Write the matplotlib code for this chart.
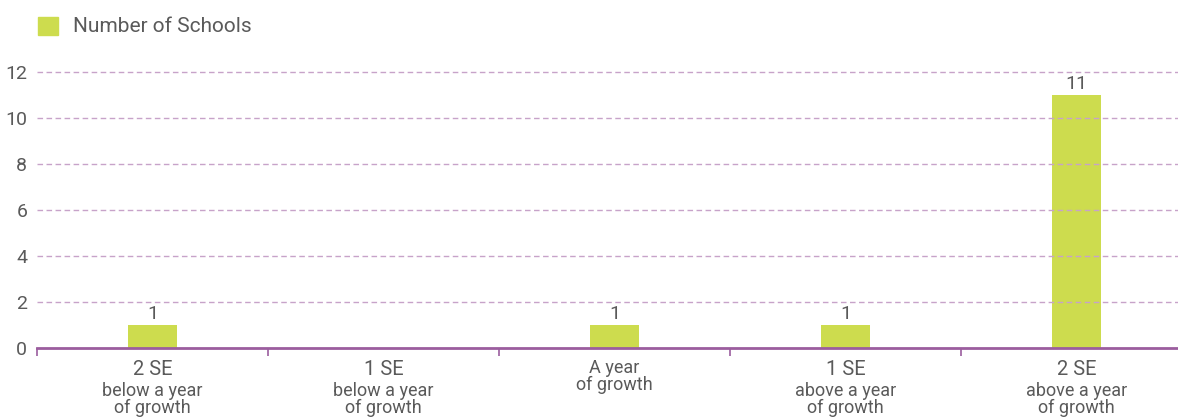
import matplotlib.pyplot as plt
import matplotlib.transforms as mtransforms
from matplotlib.patches import Rectangle

# data
categories = ['2 SE', '1 SE', 'A year', '1 SE', '2 SE']
subtitles = ['below a year\nof growth', 'below a year\nof growth', 'of growth',
             'above a year\nof growth', 'above a year\nof growth']
values = [1, 0, 1, 1, 11]
series_name = 'Number of Schools'

bar_color = '#cddc4e'
axis_color = '#9b5d9e'
grid_color = '#c7a3c9'
text_color = '#5a5a5a'
font = 'Roboto'

fig = plt.figure(figsize=(11.78, 4.19), dpi=100)
ax = fig.add_axes([37 / 1178, 71 / 419, 1 - 37 / 1178, (348 - 72) / 419])

x = list(range(len(values)))
ax.bar(x, values, width=0.21, color=bar_color, zorder=2)
for xi, v in zip(x, values):
    if v > 0:
        ax.text(xi, v + 0.1, str(v), ha='center', va='bottom', fontsize=14,
                color=text_color, family=font)

ax.set_xlim(-0.5, 4.44)
ax.set_ylim(0, 12)

# dashed grid drawn over the bars
for yv in range(2, 13, 2):
    ax.axhline(yv, color=grid_color, lw=1, ls=(0, (4, 2.5)), zorder=3, clip_on=False)

ax.set_yticks(range(0, 13, 2))
ax.set_yticklabels([str(t) for t in range(0, 13, 2)], fontsize=14, color=text_color, family=font)
ax.tick_params(axis='y', length=0, pad=7)

ax.set_xticks([i - 0.5 for i in range(len(values))])
ax.set_xticklabels([])
ax.tick_params(axis='x', length=6, width=1.2, color=axis_color, direction='out')

for s in ['top', 'right', 'left']:
    ax.spines[s].set_visible(False)
ax.spines['bottom'].set_color(axis_color)
ax.spines['bottom'].set_linewidth(2)
ax.spines['bottom'].set_zorder(4)

trans = mtransforms.blended_transform_factory(ax.transData, fig.transFigure)
for xi, cat, sub in zip(x, categories, subtitles):
    if cat == 'A year':
        lines = [(cat, 368, 13), (sub, 385, 13)]
    else:
        sub1, sub2 = sub.split('\n')
        lines = [(cat, 369, 14.5), (sub1, 391, 13), (sub2, 408, 13)]
    for txt, ypix, fs in lines:
        ax.text(xi, 1 - ypix / 419, txt, ha='center', va='center', fontsize=fs,
                color=text_color, family=font, transform=trans)

# legend
fig.patches.append(Rectangle((38 / 1178, 1 - 35 / 419), 20 / 1178, 18 / 419,
                             transform=fig.transFigure, color=bar_color))
fig.text(73 / 1178, 1 - 26 / 419, series_name, ha='left', va='center', fontsize=15,
         color=text_color, family=font)

fig.savefig('out.png', dpi=100)
